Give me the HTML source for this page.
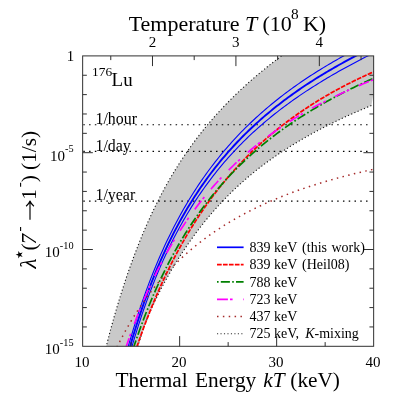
<!DOCTYPE html>
<html><head><meta charset="utf-8"><title>176Lu</title>
<style>
html,body{margin:0;padding:0;background:#fff;}
svg{display:block;will-change:transform;font-family:"Liberation Serif",serif;fill:#000;}
.it{font-style:italic;}
</style></head><body>
<svg width="403" height="403" viewBox="0 0 403 403">
<rect width="403" height="403" fill="#fff"/>
<defs><clipPath id="c"><rect x="82.65" y="55.9" width="291.0" height="290.40000000000003"/></clipPath></defs>
<g clip-path="url(#c)" fill="none">
<path d="M105.31,350.30 L106.13,346.95 L106.97,343.59 L107.82,340.24 L108.69,336.89 L109.57,333.54 L110.46,330.18 L111.37,326.83 L112.29,323.48 L113.22,320.12 L114.17,316.77 L115.14,313.42 L116.12,310.07 L117.11,306.71 L118.11,303.36 L119.13,300.01 L120.17,296.66 L121.22,293.30 L122.29,289.95 L123.37,286.60 L124.47,283.24 L125.58,279.89 L126.71,276.54 L127.86,273.19 L129.03,269.83 L130.21,266.48 L131.42,263.13 L132.64,259.77 L133.88,256.42 L135.15,253.07 L136.43,249.72 L137.74,246.36 L139.06,243.01 L140.41,239.66 L141.79,236.30 L143.19,232.95 L144.61,229.60 L146.06,226.25 L147.54,222.89 L149.05,219.54 L150.58,216.19 L152.14,212.83 L153.74,209.48 L155.36,206.13 L157.02,202.78 L158.71,199.42 L160.44,196.07 L162.20,192.72 L164.00,189.37 L165.84,186.01 L167.72,182.66 L169.63,179.31 L171.59,175.95 L173.59,172.60 L175.64,169.25 L177.73,165.90 L179.87,162.54 L182.05,159.19 L184.29,155.84 L186.57,152.48 L188.91,149.13 L191.31,145.78 L193.76,142.43 L196.26,139.07 L198.82,135.72 L201.45,132.37 L204.14,129.01 L206.88,125.66 L209.70,122.31 L212.58,118.96 L215.53,115.60 L218.55,112.25 L221.64,108.90 L224.81,105.54 L228.05,102.19 L231.37,98.84 L234.77,95.49 L238.25,92.13 L241.81,88.78 L245.46,85.43 L249.20,82.08 L253.02,78.72 L256.94,75.37 L260.95,72.02 L265.06,68.66 L269.26,65.31 L273.57,61.96 L277.97,58.61 L282.48,55.25 L287.10,51.90 L381.65,49.9 L371.38,105.54 L363.36,108.90 L355.61,112.25 L348.12,115.60 L340.89,118.96 L333.90,122.31 L327.16,125.66 L320.64,129.01 L314.35,132.37 L308.28,135.72 L302.40,139.07 L296.73,142.43 L291.25,145.78 L285.96,149.13 L280.84,152.48 L275.89,155.84 L271.11,159.19 L266.48,162.54 L262.00,165.90 L257.67,169.25 L253.48,172.60 L249.42,175.95 L245.49,179.31 L241.68,182.66 L237.99,186.01 L234.40,189.37 L230.93,192.72 L227.55,196.07 L224.27,199.42 L221.09,202.78 L217.99,206.13 L214.98,209.48 L212.05,212.83 L209.19,216.19 L206.41,219.54 L203.70,222.89 L201.05,226.25 L198.47,229.60 L195.95,232.95 L193.49,236.30 L191.08,239.66 L188.72,243.01 L186.42,246.36 L184.17,249.72 L181.96,253.07 L179.80,256.42 L177.69,259.77 L175.61,263.13 L173.58,266.48 L171.60,269.83 L169.65,273.19 L167.74,276.54 L165.87,279.89 L164.05,283.24 L162.26,286.60 L160.51,289.95 L158.80,293.30 L157.13,296.66 L155.51,300.01 L153.92,303.36 L152.38,306.71 L150.88,310.07 L149.43,313.42 L148.03,316.77 L146.68,320.12 L145.38,323.48 L144.13,326.83 L142.94,330.18 L141.80,333.54 L140.73,336.89 L139.72,340.24 L138.77,343.59 L137.90,346.95 L137.10,350.30 Z" fill="#c9c9c9" stroke="none"/>
<path d="M287.10,51.90 L282.48,55.25 L277.97,58.61 L273.57,61.96 L269.26,65.31 L265.06,68.66 L260.95,72.02 L256.94,75.37 L253.02,78.72 L249.20,82.08 L245.46,85.43 L241.81,88.78 L238.25,92.13 L234.77,95.49 L231.37,98.84 L228.05,102.19 L224.81,105.54 L221.64,108.90 L218.55,112.25 L215.53,115.60 L212.58,118.96 L209.70,122.31 L206.88,125.66 L204.14,129.01 L201.45,132.37 L198.82,135.72 L196.26,139.07 L193.76,142.43 L191.31,145.78 L188.91,149.13 L186.57,152.48 L184.29,155.84 L182.05,159.19 L179.87,162.54 L177.73,165.90 L175.64,169.25 L173.59,172.60 L171.59,175.95 L169.63,179.31 L167.72,182.66 L165.84,186.01 L164.00,189.37 L162.20,192.72 L160.44,196.07 L158.71,199.42 L157.02,202.78 L155.36,206.13 L153.74,209.48 L152.14,212.83 L150.58,216.19 L149.05,219.54 L147.54,222.89 L146.06,226.25 L144.61,229.60 L143.19,232.95 L141.79,236.30 L140.41,239.66 L139.06,243.01 L137.74,246.36 L136.43,249.72 L135.15,253.07 L133.88,256.42 L132.64,259.77 L131.42,263.13 L130.21,266.48 L129.03,269.83 L127.86,273.19 L126.71,276.54 L125.58,279.89 L124.47,283.24 L123.37,286.60 L122.29,289.95 L121.22,293.30 L120.17,296.66 L119.13,300.01 L118.11,303.36 L117.11,306.71 L116.12,310.07 L115.14,313.42 L114.17,316.77 L113.22,320.12 L112.29,323.48 L111.37,326.83 L110.46,330.18 L109.57,333.54 L108.69,336.89 L107.82,340.24 L106.97,343.59 L106.13,346.95 L105.31,350.30" stroke="#111" stroke-width="1.1" stroke-dasharray="1.15 2.32"/>
<path d="M371.38,105.54 L363.36,108.90 L355.61,112.25 L348.12,115.60 L340.89,118.96 L333.90,122.31 L327.16,125.66 L320.64,129.01 L314.35,132.37 L308.28,135.72 L302.40,139.07 L296.73,142.43 L291.25,145.78 L285.96,149.13 L280.84,152.48 L275.89,155.84 L271.11,159.19 L266.48,162.54 L262.00,165.90 L257.67,169.25 L253.48,172.60 L249.42,175.95 L245.49,179.31 L241.68,182.66 L237.99,186.01 L234.40,189.37 L230.93,192.72 L227.55,196.07 L224.27,199.42 L221.09,202.78 L217.99,206.13 L214.98,209.48 L212.05,212.83 L209.19,216.19 L206.41,219.54 L203.70,222.89 L201.05,226.25 L198.47,229.60 L195.95,232.95 L193.49,236.30 L191.08,239.66 L188.72,243.01 L186.42,246.36 L184.17,249.72 L181.96,253.07 L179.80,256.42 L177.69,259.77 L175.61,263.13 L173.58,266.48 L171.60,269.83 L169.65,273.19 L167.74,276.54 L165.87,279.89 L164.05,283.24 L162.26,286.60 L160.51,289.95 L158.80,293.30 L157.13,296.66 L155.51,300.01 L153.92,303.36 L152.38,306.71 L150.88,310.07 L149.43,313.42 L148.03,316.77 L146.68,320.12 L145.38,323.48 L144.13,326.83 L142.94,330.18 L141.80,333.54 L140.73,336.89 L139.72,340.24 L138.77,343.59 L137.90,346.95 L137.10,350.30" stroke="#111" stroke-width="1.1" stroke-dasharray="1.15 2.32"/>
<path d="M83.3,124.75 H370.15" stroke="#000" stroke-width="1.2" stroke-dasharray="1.5 4.27"/>
<path d="M83.3,151.47 H370.15" stroke="#000" stroke-width="1.2" stroke-dasharray="1.5 4.27"/>
<path d="M83.3,201.08 H370.15" stroke="#000" stroke-width="1.2" stroke-dasharray="1.5 4.27"/>
<path d="M127.45,349.26 L129.32,342.69 L131.19,336.30 L133.05,330.09 L134.92,324.04 L136.79,318.15 L138.65,312.42 L140.52,306.84 L142.39,301.40 L144.25,296.10 L146.12,290.93 L147.99,285.89 L149.85,280.98 L151.72,276.18 L153.59,271.50 L155.45,266.92 L157.32,262.46 L159.19,258.09 L161.06,253.83 L162.92,249.66 L164.79,245.59 L166.66,241.60 L168.52,237.70 L170.39,233.89 L172.26,230.16 L174.12,226.51 L175.99,222.93 L177.86,219.43 L179.72,215.99 L181.59,212.63 L183.46,209.34 L185.32,206.11 L187.19,202.94 L189.06,199.84 L190.92,196.79 L192.79,193.80 L194.66,190.87 L196.52,188.00 L198.39,185.17 L200.26,182.40 L202.12,179.68 L203.99,177.01 L205.86,174.38 L207.73,171.80 L209.59,169.27 L211.46,166.78 L213.33,164.33 L215.19,161.92 L217.06,159.55 L218.93,157.22 L220.79,154.93 L222.66,152.68 L224.53,150.46 L226.39,148.28 L228.26,146.13 L230.13,144.02 L231.99,141.94 L233.86,139.89 L235.73,137.87 L237.59,135.88 L239.46,133.92 L241.33,131.99 L243.19,130.09 L245.06,128.21 L246.93,126.37 L248.79,124.54 L250.66,122.75 L252.53,120.98 L254.39,119.23 L256.26,117.51 L258.13,115.81 L260.00,114.13 L261.86,112.47 L263.73,110.84 L265.60,109.23 L267.46,107.64 L269.33,106.06 L271.20,104.51 L273.06,102.98 L274.93,101.47 L276.80,99.97 L278.66,98.50 L280.53,97.04 L282.40,95.60 L284.26,94.17 L286.13,92.76 L288.00,91.37 L289.86,90.00 L291.73,88.64 L293.60,87.29 L295.46,85.96 L297.33,84.65 L299.20,83.35 L301.06,82.06 L302.93,80.79 L304.80,79.53 L306.67,78.28 L308.53,77.05 L310.40,75.83 L312.27,74.62 L314.13,73.43 L316.00,72.24 L317.87,71.07 L319.73,69.91 L321.60,68.76 L323.47,67.62 L325.33,66.50 L327.20,65.38 L329.07,64.27 L330.93,63.18 L332.80,62.09 L334.67,61.02 L336.53,59.95 L338.40,58.89 L340.27,57.85 L342.13,56.81 L344.00,55.78 L345.87,54.76 L347.73,53.75 L349.60,52.74 L351.47,51.75 L353.33,50.76 L355.20,49.78 L357.07,48.81" stroke="#0000ff" stroke-width="1.1"/>
<path d="M131.19,349.17 L133.05,342.78 L134.92,336.58 L136.79,330.54 L138.65,324.67 L140.52,318.96 L142.39,313.41 L144.25,308.00 L146.12,302.73 L147.99,297.60 L149.85,292.59 L151.72,287.72 L153.59,282.97 L155.45,278.33 L157.32,273.81 L159.19,269.39 L161.06,265.08 L162.92,260.88 L164.79,256.77 L166.66,252.75 L168.52,248.83 L170.39,244.99 L172.26,241.25 L174.12,237.58 L175.99,233.99 L177.86,230.48 L179.72,227.05 L181.59,223.68 L183.46,220.39 L185.32,217.17 L187.19,214.01 L189.06,210.91 L190.92,207.88 L192.79,204.90 L194.66,201.99 L196.52,199.13 L198.39,196.32 L200.26,193.57 L202.12,190.87 L203.99,188.22 L205.86,185.62 L207.73,183.06 L209.59,180.55 L211.46,178.09 L213.33,175.67 L215.19,173.29 L217.06,170.95 L218.93,168.65 L220.79,166.39 L222.66,164.17 L224.53,161.98 L226.39,159.83 L228.26,157.71 L230.13,155.63 L231.99,153.58 L233.86,151.56 L235.73,149.58 L237.59,147.62 L239.46,145.69 L241.33,143.79 L243.19,141.92 L245.06,140.08 L246.93,138.26 L248.79,136.47 L250.66,134.70 L252.53,132.96 L254.39,131.25 L256.26,129.55 L258.13,127.88 L260.00,126.23 L261.86,124.61 L263.73,123.00 L265.60,121.42 L267.46,119.85 L269.33,118.31 L271.20,116.78 L273.06,115.27 L274.93,113.78 L276.80,112.31 L278.66,110.86 L280.53,109.42 L282.40,108.00 L284.26,106.60 L286.13,105.21 L288.00,103.84 L289.86,102.49 L291.73,101.14 L293.60,99.82 L295.46,98.51 L297.33,97.21 L299.20,95.92 L301.06,94.65 L302.93,93.39 L304.80,92.14 L306.67,90.91 L308.53,89.69 L310.40,88.48 L312.27,87.28 L314.13,86.09 L316.00,84.92 L317.87,83.75 L319.73,82.60 L321.60,81.45 L323.47,80.32 L325.33,79.20 L327.20,78.08 L329.07,76.98 L330.93,75.88 L332.80,74.80 L334.67,73.72 L336.53,72.65 L338.40,71.60 L340.27,70.54 L342.13,69.50 L344.00,68.47 L345.87,67.44 L347.73,66.42 L349.60,65.41 L351.47,64.41 L353.33,63.41 L355.20,62.42 L357.07,61.44 L358.94,60.46 L360.80,59.50 L362.67,58.53 L364.54,57.58 L366.40,56.63 L368.27,55.69 L370.14,54.75 L372.00,53.82 L373.87,52.89 L375.74,51.97 L377.60,51.06 L379.47,50.15" stroke="#0000ff" stroke-width="1.1"/>
<path d="M129.32,349.04 L131.19,342.59 L133.05,336.32 L134.92,330.22 L136.79,324.28 L138.65,318.51 L140.52,312.88 L142.39,307.40 L144.25,302.06 L146.12,296.86 L147.99,291.79 L149.85,286.84 L151.72,282.02 L153.59,277.31 L155.45,272.71 L157.32,268.23 L159.19,263.85 L161.06,259.57 L162.92,255.38 L164.79,251.30 L166.66,247.30 L168.52,243.39 L170.39,239.57 L172.26,235.83 L174.12,232.17 L175.99,228.59 L177.86,225.09 L179.72,221.65 L181.59,218.29 L183.46,214.99 L185.32,211.76 L187.19,208.60 L189.06,205.50 L190.92,202.46 L192.79,199.47 L194.66,196.55 L196.52,193.68 L198.39,190.86 L200.26,188.09 L202.12,185.38 L203.99,182.71 L205.86,180.09 L207.73,177.52 L209.59,175.00 L211.46,172.51 L213.33,170.07 L215.19,167.68 L217.06,165.32 L218.93,163.00 L220.79,160.72 L222.66,158.48 L224.53,156.27 L226.39,154.10 L228.26,151.97 L230.13,149.86 L231.99,147.79 L233.86,145.75 L235.73,143.75 L237.59,141.77 L239.46,139.82 L241.33,137.91 L243.19,136.02 L245.06,134.15 L246.93,132.32 L248.79,130.51 L250.66,128.72 L252.53,126.96 L254.39,125.23 L256.26,123.52 L258.13,121.83 L260.00,120.16 L261.86,118.52 L263.73,116.90 L265.60,115.30 L267.46,113.72 L269.33,112.16 L271.20,110.62 L273.06,109.10 L274.93,107.59 L276.80,106.11 L278.66,104.64 L280.53,103.20 L282.40,101.77 L284.26,100.35 L286.13,98.95 L288.00,97.57 L289.86,96.21 L291.73,94.86 L293.60,93.52 L295.46,92.20 L297.33,90.90 L299.20,89.60 L301.06,88.33 L302.93,87.06 L304.80,85.81 L306.67,84.57 L308.53,83.35 L310.40,82.14 L312.27,80.94 L314.13,79.75 L316.00,78.57 L317.87,77.41 L319.73,76.25 L321.60,75.11 L323.47,73.98 L325.33,72.86 L327.20,71.75 L329.07,70.65 L330.93,69.56 L332.80,68.48 L334.67,67.41 L336.53,66.35 L338.40,65.29 L340.27,64.25 L342.13,63.22 L344.00,62.19 L345.87,61.17 L347.73,60.17 L349.60,59.17 L351.47,58.17 L353.33,57.19 L355.20,56.21 L357.07,55.25 L358.94,54.29 L360.80,53.33 L362.67,52.39 L364.54,51.45 L366.40,50.51 L368.27,49.59 L370.14,48.67" stroke="#0000ff" stroke-width="1.9"/>
<path d="M134.92,352.79 L136.79,347.20 L138.65,341.75 L140.52,336.43 L142.39,331.23 L144.25,326.15 L146.12,321.18 L147.99,316.32 L149.85,311.58 L151.72,306.93 L153.59,302.39 L155.45,297.94 L157.32,293.59 L159.19,289.32 L161.06,285.15 L162.92,281.06 L164.79,277.06 L166.66,273.13 L168.52,269.28 L170.39,265.51 L172.26,261.82 L174.12,258.19 L175.99,254.64 L177.86,251.15 L179.72,247.72 L181.59,244.37 L183.46,241.07 L185.32,237.83 L187.19,234.66 L189.06,231.53 L190.92,228.47 L192.79,225.46 L194.66,222.50 L196.52,219.60 L198.39,216.74 L200.26,213.93 L202.12,211.18 L203.99,208.46 L205.86,205.80 L207.73,203.17 L209.59,200.59 L211.46,198.06 L213.33,195.56 L215.19,193.10 L217.06,190.69 L218.93,188.31 L220.79,185.97 L222.66,183.66 L224.53,181.40 L226.39,179.16 L228.26,176.96 L230.13,174.80 L231.99,172.67 L233.86,170.57 L235.73,168.50 L237.59,166.46 L239.46,164.45 L241.33,162.47 L243.19,160.52 L245.06,158.60 L246.93,156.71 L248.79,154.84 L250.66,153.00 L252.53,151.19 L254.39,149.40 L256.26,147.63 L258.13,145.89 L260.00,144.18 L261.86,142.49 L263.73,140.82 L265.60,139.17 L267.46,137.55 L269.33,135.95 L271.20,134.37 L273.06,132.81 L274.93,131.27 L276.80,129.75 L278.66,128.25 L280.53,126.77 L282.40,125.31 L284.26,123.87 L286.13,122.45 L288.00,121.04 L289.86,119.66 L291.73,118.29 L293.60,116.94 L295.46,115.60 L297.33,114.28 L299.20,112.98 L301.06,111.70 L302.93,110.43 L304.80,109.17 L306.67,107.93 L308.53,106.71 L310.40,105.50 L312.27,104.31 L314.13,103.13 L316.00,101.96 L317.87,100.81 L319.73,99.67 L321.60,98.54 L323.47,97.43 L325.33,96.33 L327.20,95.25 L329.07,94.17 L330.93,93.11 L332.80,92.06 L334.67,91.03 L336.53,90.00 L338.40,88.99 L340.27,87.99 L342.13,87.00 L344.00,86.02 L345.87,85.05 L347.73,84.09 L349.60,83.15 L351.47,82.21 L353.33,81.29 L355.20,80.37 L357.07,79.47 L358.94,78.57 L360.80,77.69 L362.67,76.81 L364.54,75.94 L366.40,75.09 L368.27,74.24 L370.14,73.40 L372.00,72.57 L373.87,71.75 L375.74,70.94 L377.60,70.14 L379.47,69.35" stroke="#ff0000" stroke-width="1.7" stroke-dasharray="4.7 1.25"/>
<path d="M133.05,349.11 L134.92,343.50 L136.79,338.05 L138.65,332.73 L140.52,327.55 L142.39,322.50 L144.25,317.57 L146.12,312.77 L147.99,308.08 L149.85,303.51 L151.72,299.04 L153.59,294.68 L155.45,290.42 L157.32,286.25 L159.19,282.18 L161.06,278.20 L162.92,274.31 L164.79,270.51 L166.66,266.79 L168.52,263.14 L170.39,259.58 L172.26,256.09 L174.12,252.67 L175.99,249.32 L177.86,246.04 L179.72,242.83 L181.59,239.68 L183.46,236.59 L185.32,233.56 L187.19,230.59 L189.06,227.68 L190.92,224.82 L192.79,222.02 L194.66,219.26 L196.52,216.56 L198.39,213.91 L200.26,211.31 L202.12,208.75 L203.99,206.24 L205.86,203.77 L207.73,201.34 L209.59,198.96 L211.46,196.61 L213.33,194.31 L215.19,192.04 L217.06,189.81 L218.93,187.62 L220.79,185.46 L222.66,183.34 L224.53,181.25 L226.39,179.20 L228.26,177.17 L230.13,175.18 L231.99,173.22 L233.86,171.29 L235.73,169.39 L237.59,167.51 L239.46,165.67 L241.33,163.85 L243.19,162.06 L245.06,160.29 L246.93,158.55 L248.79,156.83 L250.66,155.14 L252.53,153.47 L254.39,151.82 L256.26,150.20 L258.13,148.60 L260.00,147.02 L261.86,145.46 L263.73,143.92 L265.60,142.40 L267.46,140.90 L269.33,139.42 L271.20,137.96 L273.06,136.52 L274.93,135.09 L276.80,133.69 L278.66,132.30 L280.53,130.93 L282.40,129.57 L284.26,128.23 L286.13,126.91 L288.00,125.60 L289.86,124.31 L291.73,123.03 L293.60,121.77 L295.46,120.52 L297.33,119.28 L299.20,118.06 L301.06,116.86 L302.93,115.66 L304.80,114.48 L306.67,113.31 L308.53,112.16 L310.40,111.02 L312.27,109.88 L314.13,108.77 L316.00,107.66 L317.87,106.56 L319.73,105.48 L321.60,104.40 L323.47,103.34 L325.33,102.29 L327.20,101.25 L329.07,100.21 L330.93,99.19 L332.80,98.18 L334.67,97.18 L336.53,96.18 L338.40,95.20 L340.27,94.23 L342.13,93.26 L344.00,92.30 L345.87,91.36 L347.73,90.42 L349.60,89.49 L351.47,88.56 L353.33,87.65 L355.20,86.74 L357.07,85.84 L358.94,84.95 L360.80,84.07 L362.67,83.19 L364.54,82.32 L366.40,81.46 L368.27,80.61 L370.14,79.76 L372.00,78.92 L373.87,78.08 L375.74,77.26 L377.60,76.43 L379.47,75.62" stroke="#008000" stroke-width="1.7" stroke-dasharray="9.1 2.3 1.6 2.2"/>
<path d="M125.59,348.48 L127.45,342.95 L129.32,337.55 L131.19,332.30 L133.05,327.18 L134.92,322.19 L136.79,317.32 L138.65,312.57 L140.52,307.93 L142.39,303.40 L144.25,298.99 L146.12,294.67 L147.99,290.45 L149.85,286.33 L151.72,282.30 L153.59,278.36 L155.45,274.51 L157.32,270.74 L159.19,267.05 L161.06,263.44 L162.92,259.91 L164.79,256.45 L166.66,253.06 L168.52,249.74 L170.39,246.49 L172.26,243.30 L174.12,240.17 L175.99,237.11 L177.86,234.11 L179.72,231.16 L181.59,228.27 L183.46,225.44 L185.32,222.65 L187.19,219.92 L189.06,217.24 L190.92,214.61 L192.79,212.03 L194.66,209.49 L196.52,206.99 L198.39,204.55 L200.26,202.14 L202.12,199.77 L203.99,197.45 L205.86,195.16 L207.73,192.92 L209.59,190.71 L211.46,188.53 L213.33,186.40 L215.19,184.29 L217.06,182.22 L218.93,180.19 L220.79,178.19 L222.66,176.21 L224.53,174.27 L226.39,172.36 L228.26,170.48 L230.13,168.63 L231.99,166.81 L233.86,165.01 L235.73,163.24 L237.59,161.50 L239.46,159.78 L241.33,158.08 L243.19,156.42 L245.06,154.77 L246.93,153.15 L248.79,151.55 L250.66,149.98 L252.53,148.43 L254.39,146.89 L256.26,145.38 L258.13,143.89 L260.00,142.42 L261.86,140.98 L263.73,139.55 L265.60,138.13 L267.46,136.74 L269.33,135.37 L271.20,134.01 L273.06,132.68 L274.93,131.35 L276.80,130.05 L278.66,128.76 L280.53,127.49 L282.40,126.24 L284.26,125.00 L286.13,123.78 L288.00,122.57 L289.86,121.37 L291.73,120.20 L293.60,119.03 L295.46,117.88 L297.33,116.74 L299.20,115.62 L301.06,114.51 L302.93,113.42 L304.80,112.33 L306.67,111.26 L308.53,110.20 L310.40,109.16 L312.27,108.12 L314.13,107.10 L316.00,106.09 L317.87,105.09 L319.73,104.10 L321.60,103.12 L323.47,102.16 L325.33,101.20 L327.20,100.26 L329.07,99.32 L330.93,98.40 L332.80,97.48 L334.67,96.58 L336.53,95.68 L338.40,94.79 L340.27,93.92 L342.13,93.05 L344.00,92.19 L345.87,91.34 L347.73,90.50 L349.60,89.67 L351.47,88.85 L353.33,88.03 L355.20,87.23 L357.07,86.43 L358.94,85.64 L360.80,84.86 L362.67,84.08 L364.54,83.32 L366.40,82.56 L368.27,81.81 L370.14,81.06 L372.00,80.32 L373.87,79.59 L375.74,78.87 L377.60,78.15 L379.47,77.45" stroke="#ff00ff" stroke-width="1.7" stroke-dasharray="10.9 2.1 2.6 10.4"/>
<path d="M114.39,352.58 L116.25,348.67 L118.12,344.87 L119.99,341.17 L121.85,337.57 L123.72,334.06 L125.59,330.65 L127.45,327.32 L129.32,324.08 L131.19,320.92 L133.05,317.83 L134.92,314.83 L136.79,311.89 L138.65,309.03 L140.52,306.23 L142.39,303.50 L144.25,300.83 L146.12,298.22 L147.99,295.67 L149.85,293.18 L151.72,290.75 L153.59,288.36 L155.45,286.03 L157.32,283.75 L159.19,281.51 L161.06,279.33 L162.92,277.19 L164.79,275.09 L166.66,273.04 L168.52,271.02 L170.39,269.05 L172.26,267.12 L174.12,265.22 L175.99,263.36 L177.86,261.54 L179.72,259.75 L181.59,258.00 L183.46,256.27 L185.32,254.58 L187.19,252.93 L189.06,251.30 L190.92,249.70 L192.79,248.13 L194.66,246.59 L196.52,245.08 L198.39,243.59 L200.26,242.13 L202.12,240.69 L203.99,239.28 L205.86,237.89 L207.73,236.53 L209.59,235.19 L211.46,233.87 L213.33,232.57 L215.19,231.30 L217.06,230.04 L218.93,228.81 L220.79,227.59 L222.66,226.40 L224.53,225.22 L226.39,224.06 L228.26,222.92 L230.13,221.80 L231.99,220.70 L233.86,219.61 L235.73,218.54 L237.59,217.49 L239.46,216.45 L241.33,215.43 L243.19,214.42 L245.06,213.43 L246.93,212.45 L248.79,211.49 L250.66,210.54 L252.53,209.60 L254.39,208.68 L256.26,207.77 L258.13,206.88 L260.00,205.99 L261.86,205.12 L263.73,204.27 L265.60,203.42 L267.46,202.59 L269.33,201.76 L271.20,200.95 L273.06,200.15 L274.93,199.36 L276.80,198.58 L278.66,197.81 L280.53,197.06 L282.40,196.31 L284.26,195.57 L286.13,194.84 L288.00,194.13 L289.86,193.42 L291.73,192.72 L293.60,192.03 L295.46,191.35 L297.33,190.67 L299.20,190.01 L301.06,189.35 L302.93,188.71 L304.80,188.07 L306.67,187.44 L308.53,186.82 L310.40,186.20 L312.27,185.59 L314.13,185.00 L316.00,184.40 L317.87,183.82 L319.73,183.24 L321.60,182.67 L323.47,182.11 L325.33,181.55 L327.20,181.00 L329.07,180.46 L330.93,179.92 L332.80,179.39 L334.67,178.87 L336.53,178.35 L338.40,177.84 L340.27,177.34 L342.13,176.84 L344.00,176.35 L345.87,175.86 L347.73,175.38 L349.60,174.90 L351.47,174.43 L353.33,173.97 L355.20,173.51 L357.07,173.05 L358.94,172.61 L360.80,172.16 L362.67,171.72 L364.54,171.29 L366.40,170.86 L368.27,170.44 L370.14,170.02 L372.00,169.61 L373.87,169.20 L375.74,168.80 L377.60,168.40 L379.47,168.00" stroke="#a52a2a" stroke-width="1.5" stroke-dasharray="1.5 4.36"/>
</g>
<g stroke="#303030" stroke-width="1" fill="none">
<rect x="82.65" y="55.9" width="291.0" height="290.40000000000003"/>
<path d="M82.65,75.26h4.2 M373.65,75.26h-4.2 M82.65,94.62h4.2 M373.65,94.62h-4.2 M82.65,113.98h4.2 M373.65,113.98h-4.2 M82.65,133.34h4.2 M373.65,133.34h-4.2 M82.65,152.70h10.2 M373.65,152.70h-10.2 M82.65,172.06h4.2 M373.65,172.06h-4.2 M82.65,191.42h4.2 M373.65,191.42h-4.2 M82.65,210.78h4.2 M373.65,210.78h-4.2 M82.65,230.14h4.2 M373.65,230.14h-4.2 M82.65,249.50h10.2 M373.65,249.50h-10.2 M82.65,268.86h4.2 M373.65,268.86h-4.2 M82.65,288.22h4.2 M373.65,288.22h-4.2 M82.65,307.58h4.2 M373.65,307.58h-4.2 M82.65,326.94h4.2 M373.65,326.94h-4.2 M131.15,346.3v-4.2 M179.65,346.3v-10.2 M228.15,346.3v-4.2 M276.65,346.3v-10.2 M325.15,346.3v-4.2 M110.78,55.9v4.2 M152.49,55.9v10.2 M194.20,55.9v4.2 M235.91,55.9v10.2 M277.62,55.9v4.2 M319.33,55.9v10.2 M361.04,55.9v4.2"/>
</g>
<g font-size="22"><text x="128.7" y="30.6">Temperature</text><text x="244.9" y="30.6" class="it">T</text><text x="262.4" y="30.6">(10</text><text x="291.1" y="18.8" font-size="15.3">8</text><text x="302.9" y="30.6">K)</text></g>
<text x="152.39" y="46.8" font-size="15" text-anchor="middle">2</text>
<text x="235.81" y="46.8" font-size="15" text-anchor="middle">3</text>
<text x="319.23" y="46.8" font-size="15" text-anchor="middle">4</text>
<text x="82.05" y="367" font-size="15" text-anchor="middle">10</text>
<text x="179.05" y="367" font-size="15" text-anchor="middle">20</text>
<text x="276.05" y="367" font-size="15" text-anchor="middle">30</text>
<text x="373.05" y="367" font-size="15" text-anchor="middle">40</text>
<g font-size="21.3"><text x="115.5" y="387.2">Thermal</text><text x="195.1" y="387.2">Energy</text><text x="263.2" y="387.2" class="it">kT</text><text x="290.3" y="387.2">(keV)</text></g>
<text x="74.2" y="61.2" font-size="14.8" text-anchor="end">1</text>
<text x="73.6" y="160.60" font-size="15" text-anchor="end">10<tspan dy="-8.3" font-size="10.3">-5</tspan></text>
<text x="73.6" y="257.40" font-size="15" text-anchor="end">10<tspan dy="-8.3" font-size="10.3">-10</tspan></text>
<text x="73.6" y="354.20" font-size="15" text-anchor="end">10<tspan dy="-8.3" font-size="10.3">-15</tspan></text>
<text x="92" y="75.6" font-size="13.4">176</text><text x="111.6" y="85.8" font-size="18.9">Lu</text>
<text x="95.5" y="124.15" font-size="15.9">1/hour</text>
<text x="95.5" y="150.87" font-size="15.9">1/day</text>
<text x="95.5" y="200.48" font-size="15.9">1/year</text>
<g transform="translate(35.9,268.6) rotate(-90)" font-size="21.3"><text x="0" y="0" font-size="23" class="it">λ</text><text x="18" y="0">(</text><text x="24" y="0" class="it">7</text><text x="37.2" y="-12" font-size="15.5">-</text><path d="M48.8,-5.9H67.3 M62.3,-9.8 Q64.6,-7 67.6,-5.9 Q64.6,-4.8 62.3,-2" stroke="#000" stroke-width="1.15" fill="none" stroke-linejoin="round"/><text x="68.9" y="0">1</text><text x="81.3" y="-12" font-size="15.5">-</text><text x="86.3" y="0">) (1/s)</text><path transform="translate(13.9,-16.4) scale(3.9)" d="M0,-1 L0.2245,-0.309 L0.951,-0.309 L0.363,0.118 L0.588,0.809 L0,0.382 L-0.588,0.809 L-0.363,0.118 L-0.951,-0.309 L-0.2245,-0.309 Z" fill="#000"/></g>
<path d="M217,247.3H243.6" stroke="#0000ff" stroke-width="1.7" fill="none"/>
<text x="249.5" y="251.9" font-size="14">839 keV<tspan dx="1.5"> (this</tspan><tspan dx="1"> work)</tspan></text>
<path d="M217,264.6H243.6" stroke="#ff0000" stroke-width="1.7" fill="none" stroke-dasharray="4.7 1.25"/>
<text x="249.5" y="269.2" font-size="14">839 keV<tspan dx="1.5"> (Heil08)</tspan></text>
<path d="M217,281.9H243.6" stroke="#008000" stroke-width="1.7" fill="none" stroke-dasharray="1.6 2.2 9.1 2.3"/>
<text x="249.5" y="286.5" font-size="14">788 keV</text>
<path d="M217,299.3H243.6" stroke="#ff00ff" stroke-width="1.7" fill="none" stroke-dasharray="10.9 2.1 2.6 10.4"/>
<text x="249.5" y="303.9" font-size="14">723 keV</text>
<path d="M217,316.5H243.6" stroke="#a52a2a" stroke-width="1.5" fill="none" stroke-dasharray="1.5 4.36"/>
<text x="249.5" y="321.1" font-size="14">437 keV</text>
<path d="M217,333.8H243.6" stroke="#333" stroke-width="1.1" fill="none" stroke-dasharray="1.15 2.32"/>
<text x="249.5" y="338.4" font-size="14">725 keV,<tspan dx="2.6"> </tspan><tspan class="it">K</tspan>-mixing</text>
</svg></body></html>
